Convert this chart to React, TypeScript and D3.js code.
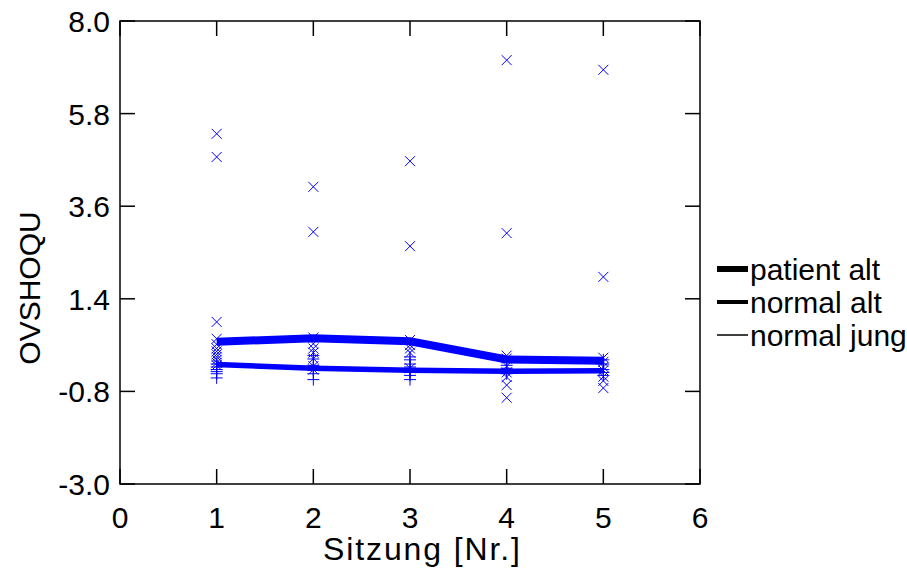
import React from "react";
import * as d3 from "d3";

const sessions = [1, 2, 3, 4, 5];
const xTicks = [0, 1, 2, 3, 4, 5, 6];
const yTicks = [-3.0, -0.8, 1.4, 3.6, 5.8, 8.0];

const patientAlt = [0.38, 0.46, 0.39, -0.04, -0.07];
const normalAlt = [-0.16, -0.25, -0.3, -0.32, -0.31];
const normalJung = [-0.18, -0.27, -0.31, -0.33, -0.32];

const crosses1 = [5.32, 4.77, 0.85, 0.45, 0.32, 0.22, 0.15, 0.08, 0.02, -0.05, -0.12, -0.18];
const crosses2 = [4.06, 2.99, 0.48, 0.33, 0.22, 0.12, -0.02, -0.2, -0.28];
const crosses3 = [4.67, 2.65, 0.42, 0.3, 0.22, 0.12, -0.25];
const crosses4 = [7.07, 2.96, 0.05, -0.02, -0.2, -0.35, -0.46, -0.65, -0.95];
const crosses5 = [6.84, 1.92, 0.0, -0.1, -0.22, -0.3, -0.45, -0.55, -0.72];
const pluses1 = [-0.15, -0.22, -0.28, -0.33, -0.38, -0.48];
const pluses2 = [0.05, -0.03, -0.18, -0.25, -0.3, -0.38, -0.52];
const pluses3 = [0.02, -0.05, -0.15, -0.22, -0.3, -0.35, -0.42, -0.52];
const pluses4 = [-0.1, -0.18, -0.25, -0.3, -0.38];
const pluses5 = [-0.05, -0.15, -0.28, -0.35, -0.42];

const crossSets = [crosses1, crosses2, crosses3, crosses4, crosses5];
const plusSets = [pluses1, pluses2, pluses3, pluses4, pluses5];

const legendItems = [
  { label: "patient alt", w: 6 },
  { label: "normal alt", w: 4 },
  { label: "normal jung", w: 1.5 },
];

const W = 907, H = 569;
const L = 120, R = 700, T = 21, B = 484;
const FONT = "'Liberation Sans', Arial, Helvetica, sans-serif";
const FS = 30;
const BLUE = "#0000ff";

export default function App() {
  const x = d3.scaleLinear().domain([0, 6]).range([L, R]);
  const y = d3.scaleLinear().domain([-3, 8]).range([B, T]);
  const line = d3.line<number>().x((_, i) => x(sessions[i])).y((d) => y(d));
  const tick = 15;
  const ms = 5;

  return (
    <svg width={W} height={H} style={{ position: "absolute", left: 0, top: 0, background: "#fff" }}>
      <rect x={0} y={0} width={W} height={H} fill="#fff" />
      {crossSets.map((set, i) =>
        set.map((v, j) => {
          const cx = x(sessions[i]);
          const cy = y(v);
          return (
            <path key={`c${i}-${j}`} d={`M${cx - ms},${cy - ms}L${cx + ms},${cy + ms}M${cx - ms},${cy + ms}L${cx + ms},${cy - ms}`} stroke={BLUE} strokeWidth={1} fill="none" />
          );
        })
      )}
      {plusSets.map((set, i) =>
        set.map((v, j) => {
          const cx = x(sessions[i]);
          const cy = y(v);
          return (
            <path key={`p${i}-${j}`} d={`M${cx - ms - 1},${cy}L${cx + ms + 1},${cy}M${cx},${cy - ms - 1}L${cx},${cy + ms + 1}`} stroke={BLUE} strokeWidth={1} fill="none" />
          );
        })
      )}
      <path d={line(normalJung) || ""} stroke={BLUE} strokeWidth={1.5} fill="none" />
      <path d={line(normalAlt) || ""} stroke={BLUE} strokeWidth={5.5} fill="none" />
      <path d={line(patientAlt) || ""} stroke={BLUE} strokeWidth={8} fill="none" />

      <rect x={L} y={T} width={R - L} height={B - T} fill="none" stroke="#000" strokeWidth={1.5} />
      {xTicks.map((t) => (
        <g key={`xt${t}`}>
          <line x1={x(t)} x2={x(t)} y1={B} y2={B - tick} stroke="#000" strokeWidth={1.5} />
          <line x1={x(t)} x2={x(t)} y1={T} y2={T + tick} stroke="#000" strokeWidth={1.5} />
          <text x={x(t)} y={528} textAnchor="middle" fontFamily={FONT} fontSize={FS} fill="#000">{t}</text>
        </g>
      ))}
      {yTicks.map((t) => (
        <g key={`yt${t}`}>
          <line x1={L} x2={L + tick} y1={y(t)} y2={y(t)} stroke="#000" strokeWidth={1.5} />
          <line x1={R} x2={R - tick} y1={y(t)} y2={y(t)} stroke="#000" strokeWidth={1.5} />
          <text x={110} y={y(t) + 11} textAnchor="end" fontFamily={FONT} fontSize={FS} fill="#000">{t.toFixed(1)}</text>
        </g>
      ))}
      <text x={323} y={560} textLength={197} lengthAdjust="spacing" fontFamily={FONT} fontSize={32} fill="#000">Sitzung [Nr.]</text>
      <text transform={`translate(40,288) rotate(-90)`} textAnchor="middle" fontFamily={FONT} fontSize={FS} fill="#000">OVSHOQU</text>

      {legendItems.map((it, i) => {
        const ly = 269 + i * 33;
        return (
          <g key={it.label}>
            <line x1={717} x2={748} y1={ly} y2={ly} stroke="#000" strokeWidth={it.w} />
            <text x={750} y={ly + 11} fontFamily={FONT} fontSize={FS} fill="#000">{it.label}</text>
          </g>
        );
      })}
    </svg>
  );
}
